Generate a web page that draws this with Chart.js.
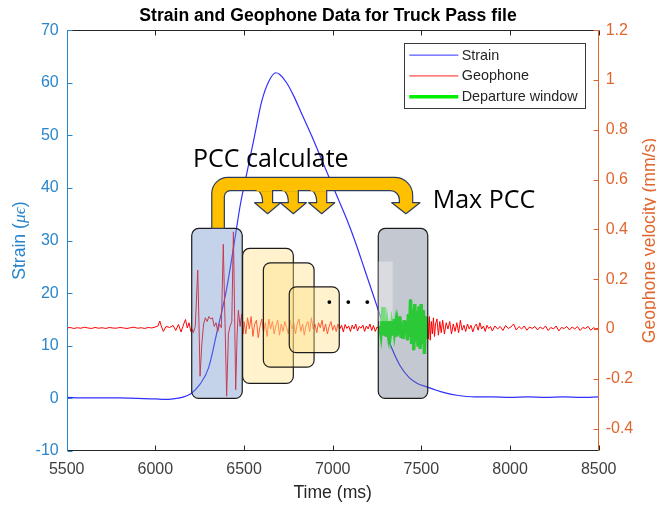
<!DOCTYPE html>
<html>
<head>
<meta charset="utf-8">
<script src="https://cdn.jsdelivr.net/npm/chart.js@4.4.1/dist/chart.umd.min.js"></script>
<style>
  body { margin: 0; background: #fff; }
</style>
</head>
<body>
<canvas id="myChart" width="656" height="507"></canvas>
<script>
// strain (micro strain) against time (ms)
const strainT = [5500, 5600, 5700, 5800, 5900, 6000, 6050, 6100, 6150, 6200,
  6250, 6300, 6350, 6400, 6440, 6480, 6520, 6560, 6600, 6640,
  6680, 6700, 6740, 6780, 6820, 6880, 6930, 6980, 7030, 7080,
  7130, 7180, 7230, 7280, 7330, 7380, 7430, 7480, 7530, 7580,
  7640, 7700, 7800, 7900, 8000, 8100, 8200, 8300, 8400, 8500];
const strainV = [0.2, 0.1, 0.1, 0.1, 0, -0.1, -0.2, -0.1, 0.2, 0.9,
  2.6, 5.8, 13, 20.5, 28.5, 37, 43.5, 50, 56.5, 60.3,
  61.9, 61.6, 60, 57.5, 54.5, 50, 46, 42, 38, 34,
  29.5, 24.5, 19.5, 14.5, 9.8, 6.2, 4, 2.8, 2.2, 1.6,
  1, 0.6, 0.3, 0.3, 0.2, 0.3, 0.2, 0.3, 0.2, 0.3];

// geophone velocity (mm/s) against time (ms)
const geoT = [5500, 5520, 5540, 5560, 5580, 5600, 5620, 5640, 5660, 5680,
  5700, 5720, 5740, 5760, 5780, 5800, 5820, 5840, 5860, 5880,
  5900, 5920, 5940, 5960, 5980, 6000, 6015, 6025, 6035, 6045,
  6060, 6080, 6100, 6115, 6130, 6145, 6160, 6170, 6180, 6190, 6200,
  6207, 6214, 6225, 6239, 6246, 6252, 6262, 6272, 6282, 6292,
  6302, 6312, 6322, 6332, 6342, 6352, 6362, 6372, 6383, 6393,
  6402, 6412, 6421, 6431, 6440, 6447, 6453, 6461, 6468, 6478, 6487, 6495,
  6500, 6510, 6520, 6530, 6540, 6550, 6560, 6570, 6580, 6590,
  6600, 6610, 6620, 6630, 6640, 6650, 6660, 6670, 6680, 6690,
  6700, 6710, 6720, 6730, 6740, 6750, 6760, 6770, 6780, 6790,
  6800, 6810, 6820, 6830, 6840, 6850, 6860, 6870, 6880, 6890,
  6900, 6910, 6920, 6930, 6940, 6950, 6960, 6970, 6980, 6990,
  7000, 7010, 7020, 7030, 7040, 7050, 7060, 7070, 7080, 7090,
  7100, 7110, 7120, 7130, 7140, 7150, 7160, 7170, 7180, 7190,
  7200, 7210, 7220, 7230, 7240, 7250, 7260,
  7266, 7272, 7278, 7284, 7289, 7295, 7301, 7307, 7313, 7319,
  7325, 7331, 7337, 7343, 7349, 7355, 7361, 7367, 7373, 7379,
  7385, 7391, 7397, 7403, 7409, 7415, 7421, 7427, 7433, 7439,
  7445, 7451, 7457, 7463, 7469, 7475, 7481, 7487, 7493, 7499,
  7505, 7511, 7517, 7523, 7529,
  7535, 7540, 7545, 7550, 7556, 7562, 7568, 7574, 7580, 7588,
  7596, 7604, 7612, 7620, 7630, 7640, 7650, 7660, 7670, 7680,
  7690, 7700, 7710, 7720, 7730, 7740, 7750, 7760, 7770, 7780,
  7790, 7800, 7810, 7820, 7830, 7840, 7850, 7860, 7870, 7880,
  7890, 7900, 7915, 7930, 7945, 7960, 7975, 7990, 8005, 8020,
  8035, 8050, 8065, 8080, 8095, 8110, 8125, 8140, 8155, 8170,
  8185, 8200, 8215, 8230, 8245, 8260, 8275, 8290, 8305, 8320,
  8335, 8350, 8365, 8380, 8395, 8410, 8425, 8440, 8455, 8470, 8485, 8500];
const geoV = [0.004, 0.006, 0.002, 0.005, 0.003, 0.007, 0.004, 0.002, 0.006, 0.003,
  0.005, 0.002, 0.006, 0.004, 0.003, 0.006, 0.004, 0.002, 0.005, 0.007,
  0.003, 0.005, 0.002, 0.006, 0.004, 0.008, 0.012, 0.032, 0.008, -0.01,
  0.01, 0.006, 0.014, -0.006, 0.018, -0.012, 0.02, 0.038, 0.004, 0.025, -0.01,
  0, -0.015, 0.01, 0.236, 0.02, -0.19, -0.06, 0.02, 0.045, 0.03,
  0.05, 0.04, 0.045, 0.01, 0.025, -0.01, 0.02, 0.005, 0.34, 0.02,
  -0.27, -0.02, 0.01, 0.03, 0.39, 0.05, -0.244, -0.02, 0.075, 0.01, 0.06, -0.02,
  0.03, -0.02, 0.045, 0, 0.05, -0.03, 0.02, 0.035, -0.035, 0.01,
  0.04, -0.015, 0.025, -0.03, 0.04, 0, 0.03, -0.02, 0.015, 0.035,
  -0.025, 0.02, -0.01, 0.03, 0.005, -0.02, 0.035, 0, 0.025, -0.02,
  0.02, 0.04, -0.01, 0.02, -0.025, 0.015, 0.03, -0.01, 0.045, 0,
  0.02, -0.015, 0.025, 0.005, 0.035, -0.01, 0.02, -0.02, 0.01, 0.03,
  -0.005, 0.015, -0.01, 0.02, 0, 0.015, -0.012, 0.018, 0.002, 0.012,
  -0.01, 0.015, 0, 0.02, -0.008, 0.01, 0.003, 0.016, -0.01, 0.012,
  0, 0.02, -0.006, 0.014, -0.01, 0.008, 0.002,
  0.01, -0.02, 0.03, 0.088, -0.025, 0.035, -0.03, 0.02, -0.015, 0.03,
  -0.02, 0.015, -0.025, 0.04, -0.01, 0.02, -0.03, 0.03, 0.01, 0.05,
  -0.035, 0.02, -0.04, 0.035, -0.02, 0.03, -0.045, 0.06, -0.03, 0.118,
  -0.06, 0.08, -0.085, 0.1, -0.05, 0.07, -0.07, 0.09, -0.08, 0.1,
  -0.06, 0.075, -0.1, 0.05, -0.04,
  0.045, -0.04, 0.05, -0.045, 0.03, -0.02, 0.045, -0.03, 0.02, 0.04,
  -0.025, 0.03, -0.015, 0.035, -0.02, 0.025, 0, 0.03, -0.02, 0.02,
  -0.01, 0.025, -0.015, 0.035, -0.005, 0.015, -0.01, 0.02, 0, 0.015,
  -0.012, 0.01, 0.02, -0.005, 0.025, 0, 0.012, -0.01, 0.015, 0.002,
  0.01, -0.008, 0.012, 0, 0.01, -0.006, 0.014, 0.002, 0.008, 0.02,
  -0.004, 0.01, 0, 0.012, -0.005, 0.008, 0.002, 0.01, -0.004, 0.008,
  0, 0.012, -0.006, 0.006, 0, 0.012, -0.008, 0.006, 0.002, 0.01,
  -0.004, 0.008, 0, 0.01, -0.006, 0.006, 0.002, 0.01, -0.005, 0.005, 0, 0.004];

// departure window (ms)
const depWindow = [7263, 7532];

// axis ranges and tick values
const timeRange = [5500, 8500];
const timeTicks = [5500, 6000, 6500, 7000, 7500, 8000, 8500];
const strainRange = [-10, 70];
const strainTicks = [-10, 0, 10, 20, 30, 40, 50, 60, 70];
const geoRange = [-0.49, 1.2];
const geoTicks = [-0.4, -0.2, 0, 0.2, 0.4, 0.6, 0.8, 1, 1.2];

const colStrainAx = '#2a86cc';
const colGeoAx = '#e0662e';
const axFont = '"Liberation Sans", Arial, sans-serif';
const noteFont = '"Open Sans", sans-serif';

// annotation shapes, placed in data units (time, strain)
const boxes = [
  { t: [6205, 6490], s: [0, 32.3], fill: 'rgba(110,145,202,0.4)' },
  { t: [6492, 6778], s: [2.84, 28.5], fill: 'rgba(255,222,130,0.4)' },
  { t: [6609, 6895], s: [5.93, 25.76], fill: 'rgba(255,222,130,0.4)' },
  { t: [6755, 7037], s: [8.7, 21.2], fill: 'rgba(255,222,130,0.4)' },
  { t: [7257, 7536], s: [0, 32.3], fill: 'rgba(107,117,137,0.4)' }
];
const glare = { t: [7257, 7338], s: [14.7, 26] };
const dotsT = [6981, 7088, 7195];
const dotsS = 18.3;
const bracket = { stem: [6318, 6389], band: [42, 39.5], right: [7376, 7451],
  head: [7333, 7492], headBase: 37.2, tip: [7413, 35.1], bottom: 32.3 };
const smallTips = [6633, 6778, 6938];
const notes = [
  { text: 'PCC calculate', t: 6212, s: 44.0 },
  { text: 'Max PCC', t: 7564, s: 36.1 }
];

const pts = (ts, vs) => ts.map((t, i) => ({ x: t, y: vs[i] }));
const geoPts = pts(geoT, geoV);
const depPts = geoPts.filter(p => p.x >= depWindow[0] && p.x <= depWindow[1]);
const fixTicks = list => s => { s.ticks = list.map(v => ({ value: v })); };

function rr(ctx, x0, y0, x1, y1, r) {
  ctx.beginPath();
  ctx.moveTo(x0 + r, y0);
  ctx.arcTo(x1, y0, x1, y1, r);
  ctx.arcTo(x1, y1, x0, y1, r);
  ctx.arcTo(x0, y1, x0, y0, r);
  ctx.arcTo(x0, y0, x1, y0, r);
  ctx.closePath();
}

const overlay = {
  id: 'overlay',
  afterDatasetsDraw(chart) {
    const { ctx, chartArea: a, scales } = chart;
    const sx = scales.x, sy = scales.y, sy1 = scales.y1;
    const px = t => sx.getPixelForValue(t);
    const py = s => sy.getPixelForValue(s);
    const line = (x0, y0, x1, y1) => { ctx.beginPath(); ctx.moveTo(x0, y0); ctx.lineTo(x1, y1); ctx.stroke(); };
    const L = Math.round(a.left) + 0.5, R = Math.round(a.right) - 0.5;
    const T = Math.round(a.top) + 0.5, B = Math.round(a.bottom) - 0.5;
    ctx.save();

    // axes box with inward ticks
    ctx.lineWidth = 1;
    ctx.strokeStyle = '#262626';
    line(L, T, R, T);
    line(L, B, R, B);
    sx.ticks.forEach(tk => {
      const xx = Math.round(px(tk.value)) + 0.5;
      line(xx, B, xx, B - 5);
      line(xx, T, xx, T + 5);
    });
    ctx.strokeStyle = colStrainAx;
    line(L, T, L, B);
    sy.ticks.forEach(tk => {
      const yy = Math.round(py(tk.value)) + 0.5;
      line(L, yy, L + 5, yy);
    });
    ctx.strokeStyle = colGeoAx;
    line(R, T, R, B);
    sy1.ticks.forEach(tk => {
      const yy = Math.round(sy1.getPixelForValue(tk.value)) + 0.5;
      line(R, yy, R - 5, yy);
    });

    // legend
    const lx1 = a.right - 13.7, lx0 = lx1 - 181, ly0 = a.top + 13.3, ly1 = ly0 + 64.5;
    ctx.fillStyle = '#fff';
    ctx.fillRect(lx0, ly0, lx1 - lx0, ly1 - ly0);
    ctx.strokeStyle = '#3a3a3a';
    ctx.strokeRect(Math.round(lx0) + 0.5, Math.round(ly0) + 0.5, Math.round(lx1 - lx0), Math.round(ly1 - ly0));
    const items = [['Strain', '#3030ff', 1], ['Geophone', '#ff2020', 1], ['Departure window', '#00ee00', 3.5]];
    ctx.font = '14.4px ' + axFont;
    ctx.textBaseline = 'middle';
    ctx.textAlign = 'left';
    items.forEach((it, i) => {
      const yy = ly0 + 11.7 + i * 20.8;
      ctx.strokeStyle = it[1];
      ctx.lineWidth = it[2];
      line(lx0 + 5.3, yy, lx0 + 54.3, yy);
      ctx.fillStyle = '#262626';
      ctx.fillText(it[0], lx0 + 57.7, yy + 0.5);
    });

    // translucent windows
    ctx.lineWidth = 1.2;
    ctx.strokeStyle = '#1c1c1c';
    boxes.forEach(b => {
      rr(ctx, px(b.t[0]), py(b.s[1]), px(b.t[1]), py(b.s[0]), 7);
      ctx.fillStyle = b.fill;
      ctx.fill();
      ctx.stroke();
    });
    ctx.fillStyle = 'rgba(255,255,255,0.35)';
    ctx.fillRect(px(glare.t[0]), py(glare.s[1]), px(glare.t[1]) - px(glare.t[0]), py(glare.s[0]) - py(glare.s[1]));

    // dots
    ctx.fillStyle = '#000';
    dotsT.forEach(t => {
      ctx.beginPath();
      ctx.arc(px(t), py(dotsS), 1.9, 0, Math.PI * 2);
      ctx.fill();
    });

    // bracket arrow
    const xL0 = px(bracket.stem[0]), xL1 = px(bracket.stem[1]);
    const yT0 = py(bracket.band[0]), yT1 = py(bracket.band[1]);
    const xR1 = px(bracket.right[0]), xR0 = px(bracket.right[1]);
    const yHB = py(bracket.headBase), yTip = py(bracket.tip[1]), xTip = px(bracket.tip[0]);
    const yBot = py(bracket.bottom);
    ctx.fillStyle = '#ffc000';
    ctx.strokeStyle = '#2f3d5c';
    ctx.lineWidth = 1.2;
    ctx.lineJoin = 'round';
    // small arrows first, band overlaps their tops
    smallTips.forEach(t => {
      const xt = px(t);
      ctx.beginPath();
      ctx.moveTo(xt - 15, yT1 - 2);
      ctx.quadraticCurveTo(xt - 5, yT1 - 1, xt - 5, yHB);
      ctx.lineTo(xt - 13, yHB);
      ctx.lineTo(xt, yTip);
      ctx.lineTo(xt + 13, yHB);
      ctx.lineTo(xt + 5, yHB);
      ctx.lineTo(xt + 5, yT1 - 2);
      ctx.closePath();
      ctx.fill();
      ctx.stroke();
    });
    ctx.beginPath();
    ctx.moveTo(xL0, yBot);
    ctx.lineTo(xL0, yT0 + 16);
    ctx.arcTo(xL0, yT0, xL0 + 16, yT0, 16);
    ctx.lineTo(xR0 - 18, yT0);
    ctx.arcTo(xR0, yT0, xR0, yT0 + 18, 18);
    ctx.lineTo(xR0, yHB);
    ctx.lineTo(px(bracket.head[1]), yHB);
    ctx.lineTo(xTip, yTip);
    ctx.lineTo(px(bracket.head[0]), yHB);
    ctx.lineTo(xR1, yHB);
    ctx.arcTo(xR1, yT1, xR1 - 9, yT1, 9);
    ctx.lineTo(xL1 + 6, yT1);
    ctx.arcTo(xL1, yT1, xL1, yT1 + 6, 6);
    ctx.lineTo(xL1, yBot);
    ctx.closePath();
    ctx.fill();
    ctx.stroke();
    // clean the small arrow joins
    ctx.fillStyle = '#ffc000';
    smallTips.forEach(t => {
      const xt = px(t);
      ctx.fillRect(xt - 11, yT1 - 3, 15.4, 4);
    });

    // notes
    ctx.fillStyle = '#000';
    ctx.font = '25px ' + noteFont;
    ctx.textBaseline = 'alphabetic';
    ctx.textAlign = 'left';
    notes.forEach(n => ctx.fillText(n.text, px(n.t), py(n.s)));

    // axis titles
    const midY = (a.top + a.bottom) / 2;
    ctx.textBaseline = 'middle';
    ctx.save();
    ctx.translate(20, midY);
    ctx.rotate(-Math.PI / 2);
    const parts = [['Strain (', '17.6px ' + axFont], ['\u03bc\u03f5', 'italic 17.6px "Liberation Serif", serif'], [')', '17.6px ' + axFont]];
    let tw = 0;
    parts.forEach(p => { ctx.font = p[1]; tw += ctx.measureText(p[0]).width; });
    let cx = -tw / 2;
    ctx.fillStyle = colStrainAx;
    ctx.textAlign = 'left';
    parts.forEach(p => { ctx.font = p[1]; ctx.fillText(p[0], cx, 0); cx += ctx.measureText(p[0]).width; });
    ctx.restore();
    ctx.save();
    ctx.translate(650, midY);
    ctx.rotate(-Math.PI / 2);
    ctx.font = '17.6px ' + axFont;
    ctx.textAlign = 'center';
    ctx.fillStyle = colGeoAx;
    ctx.fillText('Geophone velocity (mm/s)', 0, 0);
    ctx.restore();

    ctx.restore();
  }
};

new Chart(document.getElementById('myChart'), {
  type: 'line',
  data: {
    datasets: [
      { label: 'Strain', data: pts(strainT, strainV), yAxisID: 'y',
        borderColor: '#3030ff', borderWidth: 1.2, pointRadius: 0, order: 2,
        cubicInterpolationMode: 'monotone' },
      { label: 'Geophone', data: geoPts, yAxisID: 'y1',
        borderColor: '#ff0000', borderWidth: 1, pointRadius: 0, order: 1 },
      { label: 'Departure window', data: depPts, yAxisID: 'y1',
        borderColor: '#00ff00', borderWidth: 3.5, pointRadius: 0, order: 0 }
    ]
  },
  options: {
    responsive: false,
    animation: false,
    events: [],
    layout: { padding: 0 },
    plugins: {
      legend: { display: false },
      tooltip: { enabled: false },
      title: {
        display: true,
        text: 'Strain and Geophone Data for Truck Pass file',
        color: '#000',
        font: { family: axFont, size: 17.6, weight: 'bold' },
        padding: { top: 6, bottom: 3 }
      }
    },
    scales: {
      x: {
        type: 'linear',
        min: timeRange[0], max: timeRange[1],
        grid: { display: false, drawTicks: false },
        border: { display: false },
        afterBuildTicks: fixTicks(timeTicks),
        ticks: { color: '#404040', padding: 8.7, maxRotation: 0,
          font: { family: axFont, size: 16 }, callback: v => String(v) },
        title: { display: true, text: 'Time (ms)', color: '#262626',
          font: { family: axFont, size: 17.6 }, padding: { top: 0, bottom: 3.4 } },
        afterFit: s => { s.height = 56; }
      },
      y: {
        position: 'left',
        min: strainRange[0], max: strainRange[1],
        grid: { display: false, drawTicks: false },
        border: { display: false },
        afterBuildTicks: fixTicks(strainTicks),
        ticks: { color: colStrainAx, padding: 8,
          font: { family: axFont, size: 16 } },
        afterFit: s => { s.width = 66.7; }
      },
      y1: {
        position: 'right',
        min: geoRange[0], max: geoRange[1],
        grid: { display: false, drawTicks: false },
        border: { display: false },
        afterBuildTicks: fixTicks(geoTicks),
        ticks: { color: colGeoAx, padding: 7,
          font: { family: axFont, size: 16 }, callback: v => String(v) },
        afterFit: s => { s.width = 57.3; }
      }
    }
  },
  plugins: [overlay]
});
</script>
</body>
</html>
